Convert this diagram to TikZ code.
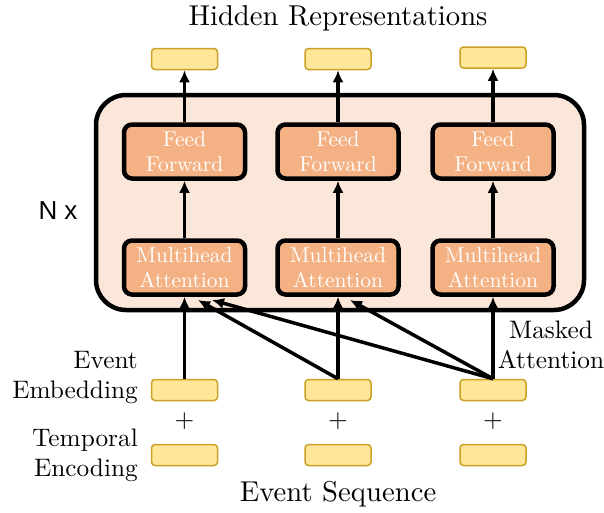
\documentclass[tikz,border=0pt]{standalone}
\usepackage{fontspec}
\setmainfont{lmroman10-regular}[Extension=.otf]
\newfontfamily\nxfont{Liberation Sans}
\usetikzlibrary{arrows.meta,calc}
\definecolor{boxyellow}{HTML}{FFE699}
\definecolor{boxgold}{HTML}{C9A227}
\definecolor{blockorange}{HTML}{F4B183}
\definecolor{bigpeach}{HTML}{FBE7DA}
\begin{document}
\begin{tikzpicture}[x=1pt,y=-1pt,
  vec/.style={draw=boxgold,fill=boxyellow,line width=1.5pt,rounded corners=3.5pt,minimum width=66pt,minimum height=21pt,inner sep=0pt},
  block/.style={draw=black,fill=blockorange,line width=4.5pt,rounded corners=8pt,minimum width=121pt,minimum height=54pt,inner sep=0pt,align=center,text=white,font=\fontsize{21.5}{25}\selectfont},
  arr/.style={line width=3.5pt,-{Latex[length=12pt,width=11pt]}},
  lbl/.style={font=\fontsize{25.3}{30}\selectfont,inner sep=0pt},
  big/.style={font=\fontsize{28.7}{34}\selectfont,inner sep=0pt}]
\useasboundingbox (0,0) rectangle (604,512);
\draw[line width=4.5pt,fill=bigpeach,rounded corners=30pt] (96,95) rectangle (584,310);
\foreach \i/\x in {1/184.5,2/338,3/493}{
  \node[block] (ff\i) at (\x,151.5) {Feed\\Forward};
  \node[block] (mh\i) at (\x,267.5) {Multihead\\Attention};
  \node[vec] (e\i) at (\x,390) {};
  \node[vec] (t\i) at (\x,455) {};
  \node[lbl] (p\i) at (\x,421) {+};
  \draw[arr] (mh\i) -- (ff\i);
  \draw[arr] (e\i) -- (mh\i);
}
\node[vec] (h1) at (184.5,59) {};
\node[vec] (h2) at (338,59) {};
\node[vec] (h3) at (493,57.5) {};
\foreach \i in {1,2,3}{\draw[arr] (ff\i) -- (h\i);}
\coordinate (a21) at (198,300);
\coordinate (a31) at (212,300);
\coordinate (a32) at (350,300);
\draw[arr] (e2.north) -- (a21);
\draw[arr] (e3.north) -- (a31);
\draw[arr] (e3.north) -- (a32);
\node[big] (title) at (338,18) {Hidden Representations};
\node[big] (seq) at (338,494) {Event Sequence};
\node[lbl,font=\nxfont\fontsize{26}{30}\selectfont] (nx) at (58,211) {N x};
\node[lbl,align=right,anchor=east] (emb) at (138,377) {Event\\Embedding};
\node[lbl,align=right,anchor=east] (tmp) at (138,455) {Temporal\\Encoding};
\node[lbl,align=center] (mask) at (551,345) {Masked\\Attention};
\end{tikzpicture}
\end{document}
